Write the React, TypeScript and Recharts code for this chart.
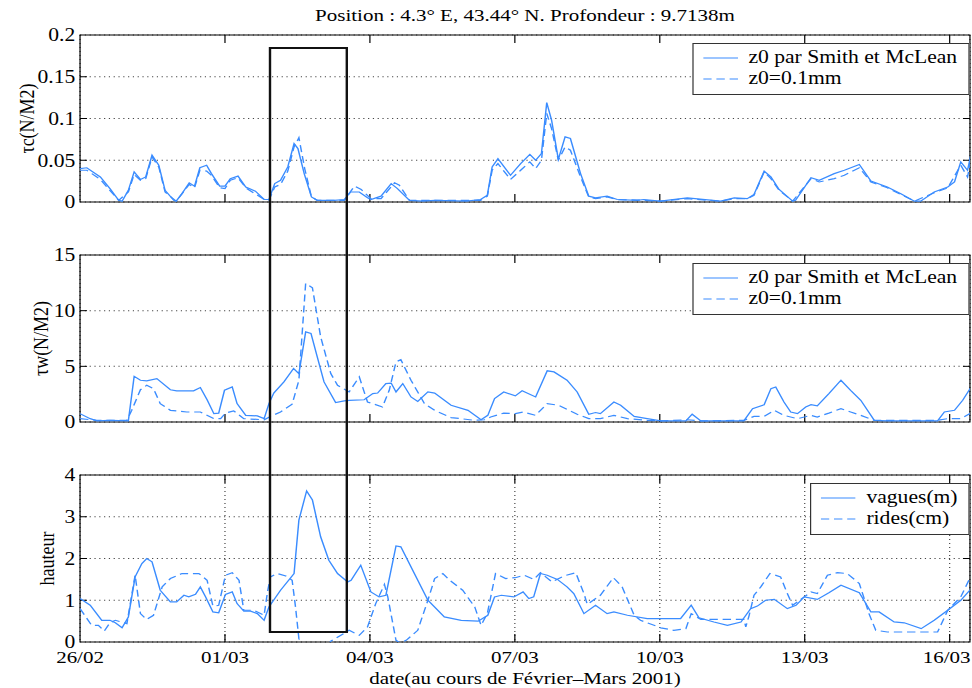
import React from "react";
import { CartesianGrid, Legend, Line, LineChart, ReferenceArea, ReferenceLine, XAxis, YAxis } from "recharts";

const FONT = '"Liberation Serif", "Times New Roman", serif';
const BLUE = "#3a8cff";
const DASH = "7 4";
// the original MATLAB figure was stretched horizontally, so draw narrow and scale
const STRETCH = 1.2;
const W = 810;
const PLOT_LEFT = 66.7;
const PLOT_RIGHT = 808.3;
const X_MAX = 18.42;

const dayTicks = [0, 3, 6, 9, 12, 15, 18];
const dayLabels = ["26/02", "01/03", "04/03", "07/03", "10/03", "13/03", "16/03"];

type Pt = [number, number];

// tau c (N/M2)
const tcSmith: Pt[] = [
  [0, 0.04], [0.14, 0.041], [0.42, 0.03], [0.62, 0.016], [0.8, 0.002], [0.87, 0.001], [1.0, 0.014],
  [1.12, 0.036], [1.25, 0.027], [1.36, 0.03], [1.49, 0.056], [1.63, 0.044], [1.76, 0.014], [1.94, 0.002],
  [1.99, 0.001], [2.11, 0.01], [2.26, 0.023], [2.37, 0.019], [2.48, 0.041], [2.62, 0.044], [2.72, 0.034],
  [2.89, 0.019], [3.0, 0.019], [3.11, 0.028], [3.27, 0.031], [3.43, 0.018], [3.63, 0.013], [3.81, 0.003],
  [3.91, 0.003], [4.03, 0.022], [4.15, 0.026], [4.3, 0.042], [4.43, 0.07], [4.51, 0.064], [4.64, 0.034],
  [4.79, 0.006], [4.91, 0.002], [5.26, 0.002], [5.47, 0.003], [5.6, 0.012], [5.78, 0.012], [5.95, 0.005],
  [6.02, 0.003], [6.23, 0.007], [6.44, 0.022], [6.57, 0.016], [6.82, 0.002], [7.1, 0.001], [7.34, 0.002],
  [8.0, 0.001], [8.29, 0.003], [8.43, 0.008], [8.53, 0.042], [8.65, 0.052], [8.91, 0.032], [9.12, 0.046],
  [9.31, 0.057], [9.43, 0.05], [9.55, 0.058], [9.66, 0.119], [9.76, 0.098], [9.9, 0.051], [10.04, 0.078],
  [10.15, 0.076], [10.36, 0.034], [10.53, 0.007], [10.67, 0.005], [10.91, 0.007], [11.12, 0.003],
  [11.53, 0.002], [11.67, 0.003], [12.01, 0.001], [12.57, 0.005], [13.26, 0.001], [13.54, 0.005],
  [13.81, 0.004], [13.95, 0.009], [14.16, 0.037], [14.3, 0.03], [14.47, 0.015], [14.57, 0.01], [14.75, 0.001],
  [14.81, 0.002], [15.13, 0.029], [15.3, 0.026], [15.61, 0.034], [15.82, 0.038], [16.13, 0.045],
  [16.37, 0.025], [16.71, 0.018], [16.99, 0.01], [17.27, 0.001], [17.4, 0.001], [17.68, 0.012],
  [17.96, 0.018], [18.1, 0.024], [18.23, 0.048], [18.37, 0.038], [18.48, 0.068],
];
const tc01: Pt[] = [
  [0, 0.038], [0.14, 0.038], [0.42, 0.027], [0.8, 0.002], [1.0, 0.012], [1.12, 0.033], [1.25, 0.026],
  [1.36, 0.028], [1.49, 0.054], [1.63, 0.042], [1.76, 0.012], [1.99, 0.001], [2.26, 0.021], [2.37, 0.017],
  [2.48, 0.038], [2.62, 0.037], [2.72, 0.032], [2.89, 0.017], [3.0, 0.016], [3.11, 0.026], [3.27, 0.029],
  [3.43, 0.017], [3.81, 0.003], [3.91, 0.002], [4.03, 0.018], [4.15, 0.021], [4.3, 0.037], [4.43, 0.066],
  [4.53, 0.077], [4.65, 0.04], [4.79, 0.006], [4.91, 0.002], [5.47, 0.002], [5.68, 0.019], [5.82, 0.015],
  [6.02, 0.004], [6.23, 0.004], [6.51, 0.023], [6.61, 0.02], [6.82, 0.002], [8.29, 0.002], [8.43, 0.007],
  [8.53, 0.038], [8.65, 0.046], [8.91, 0.027], [9.12, 0.038], [9.31, 0.048], [9.43, 0.04], [9.55, 0.05],
  [9.66, 0.106], [9.76, 0.088], [9.9, 0.05], [10.04, 0.066], [10.15, 0.062], [10.36, 0.03], [10.53, 0.006],
  [10.67, 0.004], [10.91, 0.006], [11.12, 0.003], [11.67, 0.002], [12.01, 0.001], [12.57, 0.004],
  [13.26, 0.001], [13.54, 0.004], [13.81, 0.004], [13.95, 0.008], [14.16, 0.036], [14.3, 0.028],
  [14.47, 0.014], [14.75, 0.001], [15.13, 0.028], [15.3, 0.024], [15.61, 0.028], [15.82, 0.032],
  [16.13, 0.041], [16.37, 0.024], [16.71, 0.017], [17.27, 0.001], [17.68, 0.011], [17.96, 0.017],
  [18.23, 0.044], [18.37, 0.03], [18.48, 0.062],
];

// tau w (N/M2)
const twSmith: Pt[] = [
  [0, 0.75], [0.21, 0.3], [0.35, 0.1], [0.62, 0.15], [1.0, 0.1], [1.12, 4.1], [1.25, 3.75], [1.38, 3.7],
  [1.59, 3.9], [1.87, 2.9], [2.0, 2.8], [2.35, 2.8], [2.49, 3.1], [2.63, 2.0], [2.77, 0.75], [2.87, 0.8],
  [2.99, 2.85], [3.15, 3.15], [3.25, 1.65], [3.43, 0.6], [3.67, 0.55], [3.81, 0.3], [3.91, 1.65],
  [4.01, 2.6], [4.22, 3.6], [4.42, 4.8], [4.53, 4.35], [4.67, 8.1], [4.78, 7.95], [4.91, 5.85],
  [5.05, 3.6], [5.29, 1.75], [5.47, 1.9], [5.57, 1.95], [5.88, 2.0], [6.06, 2.55], [6.16, 2.6],
  [6.33, 3.45], [6.44, 3.5], [6.54, 2.7], [6.68, 3.45], [6.85, 2.25], [6.99, 1.85], [7.2, 2.7],
  [7.34, 2.6], [7.68, 1.5], [8.03, 1.05], [8.3, 0.2], [8.44, 0.6], [8.58, 2.1], [8.77, 2.7], [9.01, 2.35],
  [9.15, 2.8], [9.43, 2.25], [9.67, 4.6], [9.81, 4.5], [10.08, 3.75], [10.29, 2.7], [10.53, 0.7],
  [10.67, 0.85], [10.77, 0.75], [11.05, 1.8], [11.19, 1.5], [11.47, 0.5], [11.74, 0.3], [12.02, 0.1],
  [12.54, 0.1], [12.67, 0.7], [12.85, 0.1], [13.74, 0.1], [13.92, 1.2], [14.16, 1.55], [14.3, 3.0],
  [14.4, 3.15], [14.57, 1.8], [14.71, 0.9], [14.85, 0.75], [15.02, 1.35], [15.13, 1.55], [15.26, 1.45],
  [15.5, 2.55], [15.75, 3.75], [15.95, 2.85], [16.16, 1.95], [16.44, 0.15], [16.71, 0.1], [17.75, 0.1],
  [17.89, 0.9], [18.1, 1.05], [18.27, 1.95], [18.48, 3.4],
];
const tw01: Pt[] = [
  [0, 0.3], [0.35, 0.15], [0.97, 0.15], [1.07, 1.05], [1.25, 2.9], [1.38, 3.3], [1.52, 3.0], [1.66, 1.65],
  [1.87, 1.05], [2.21, 0.9], [2.49, 0.9], [2.77, 0.3], [2.91, 0.3], [3.01, 0.8], [3.18, 1.0], [3.39, 0.3],
  [3.81, 0.2], [3.94, 0.5], [4.15, 0.9], [4.39, 1.6], [4.53, 3.75], [4.67, 12.45], [4.81, 12.05],
  [4.98, 7.65], [5.19, 4.35], [5.33, 3.3], [5.57, 2.7], [5.78, 4.05], [5.95, 1.8], [6.26, 1.35],
  [6.4, 2.85], [6.54, 5.4], [6.64, 5.6], [6.85, 3.75], [7.13, 1.65], [7.34, 1.05], [7.68, 0.4],
  [8.17, 0.15], [8.37, 0.2], [8.5, 0.45], [8.77, 0.8], [9.01, 0.75], [9.17, 0.9], [9.43, 0.6],
  [9.67, 1.65], [9.91, 1.5], [10.29, 0.7], [10.53, 0.3], [10.77, 0.3], [11.05, 0.6], [11.33, 0.3],
  [11.74, 0.15], [12.02, 0.1], [12.57, 0.2], [12.85, 0.1], [13.74, 0.15], [13.95, 0.5], [14.16, 0.5],
  [14.37, 1.05], [14.57, 0.6], [14.85, 0.3], [15.13, 0.6], [15.26, 0.45], [15.5, 0.8], [15.75, 1.2],
  [15.95, 0.9], [16.16, 0.6], [16.44, 0.15], [17.75, 0.15], [17.96, 0.3], [18.23, 0.3], [18.48, 0.9],
];

// hauteur : vagues (m) et rides (cm)
const vagues: Pt[] = [
  [0, 1.04], [0.21, 0.88], [0.45, 0.52], [0.62, 0.52], [0.73, 0.46], [0.87, 0.34], [1.0, 0.6], [1.14, 1.56],
  [1.28, 1.88], [1.38, 2.0], [1.49, 1.92], [1.66, 1.24], [1.87, 0.96], [2.0, 0.96], [2.15, 1.12],
  [2.25, 1.08], [2.39, 1.14], [2.49, 1.32], [2.6, 1.08], [2.75, 0.72], [2.87, 0.7], [3.01, 1.14],
  [3.15, 1.2], [3.25, 0.92], [3.39, 0.74], [3.53, 0.74], [3.67, 0.68], [3.81, 0.52], [3.91, 0.84],
  [4.15, 1.24], [4.43, 1.64], [4.53, 2.92], [4.69, 3.62], [4.81, 3.4], [4.98, 2.52], [5.15, 1.96],
  [5.33, 1.64], [5.54, 1.44], [5.61, 1.48], [5.81, 1.84], [6.02, 1.2], [6.19, 1.08], [6.33, 1.12],
  [6.54, 2.3], [6.64, 2.28], [6.92, 1.64], [7.2, 1.0], [7.54, 0.6], [7.89, 0.52], [8.24, 0.5],
  [8.44, 0.64], [8.58, 1.08], [8.72, 1.12], [8.98, 1.08], [9.17, 1.2], [9.29, 1.04], [9.39, 1.08],
  [9.53, 1.64], [9.67, 1.6], [9.88, 1.5], [10.08, 1.32], [10.22, 1.16], [10.43, 0.68], [10.67, 0.88],
  [10.91, 0.68], [11.05, 0.72], [11.33, 0.64], [11.74, 0.56], [12.43, 0.56], [12.65, 0.88], [12.81, 0.58],
  [13.12, 0.48], [13.4, 0.4], [13.68, 0.48], [13.88, 0.8], [14.02, 0.86], [14.19, 1.0], [14.37, 1.02],
  [14.64, 0.8], [14.82, 0.88], [14.99, 1.08], [15.26, 1.02], [15.5, 1.18], [15.75, 1.36], [16.13, 1.18],
  [16.37, 0.72], [16.54, 0.72], [16.85, 0.48], [17.06, 0.46], [17.41, 0.32], [17.68, 0.52], [17.96, 0.76],
  [18.23, 1.0], [18.48, 1.32],
];
const rides: Pt[] = [
  [0, 0.8], [0.24, 0.4], [0.38, 0.4], [0.5, 0.26], [0.62, 0.46], [0.73, 0.52], [0.97, 0.44], [1.14, 1.6],
  [1.25, 0.68], [1.38, 0.54], [1.52, 0.64], [1.7, 1.32], [1.87, 1.52], [2.11, 1.64], [2.46, 1.64],
  [2.63, 1.48], [2.75, 0.86], [2.87, 0.88], [3.01, 1.6], [3.15, 1.66], [3.29, 1.48], [3.39, 0.76],
  [3.6, 0.76], [3.81, 0.64], [3.88, 1.2], [3.94, 1.56], [4.08, 1.64], [4.26, 1.58], [4.39, 1.48],
  [4.46, 0.84], [4.53, 0.08], [4.6, -0.1], [4.77, -0.3], [4.98, -0.3], [5.19, 0.02], [5.57, 0.28],
  [5.78, 0.16], [5.95, 0.36], [6.12, 0.92], [6.3, 1.38], [6.37, 1.08], [6.54, 0.04], [6.62, -0.02],
  [6.75, 0.04], [6.99, 0.28], [7.2, 1.0], [7.34, 1.52], [7.51, 1.64], [7.65, 1.48], [7.92, 1.24],
  [8.17, 0.84], [8.3, 0.4], [8.43, 0.68], [8.6, 1.64], [8.81, 1.52], [9.01, 1.54], [9.19, 1.6],
  [9.39, 1.5], [9.53, 1.66], [9.77, 1.44], [10.01, 1.58], [10.26, 1.66], [10.43, 1.16], [10.5, 0.9],
  [10.77, 1.12], [11.04, 1.54], [11.22, 1.32], [11.47, 0.64], [11.6, 0.52], [12.02, 0.34], [12.29, 0.28],
  [12.54, 0.32], [12.65, 0.68], [12.85, 0.54], [13.74, 0.54], [13.78, 0.36], [13.85, 0.64], [13.95, 1.12],
  [14.09, 1.32], [14.28, 1.64], [14.5, 1.56], [14.64, 1.16], [14.75, 0.88], [14.99, 1.08], [15.13, 1.2],
  [15.26, 1.16], [15.47, 1.6], [15.68, 1.66], [15.88, 1.64], [16.13, 1.4], [16.33, 0.68], [16.47, 0.28],
  [16.71, 0.24], [17.75, 0.24], [17.96, 0.76], [18.23, 1.08], [18.48, 1.68],
];

// zoomed window (days) and its vertical extent (panel 1 top value, panel 3 bottom value)
const zoomDays = [3.905, 5.553];
const zoomTopValue = 0.186;
const zoomBottomValue = 0.21;

const PANEL_TOPS = [35, 255, 475];
const PANEL_H = 167;
const TICK_PX = 8;

const toRows = (pts: Pt[]) => pts.map(([t, v]) => ({ t, v }));
const xPx = (d: number) => PLOT_LEFT + (d / X_MAX) * (PLOT_RIGHT - PLOT_LEFT);

function BoxLegend(props: any) {
  const items = props.payload || [];
  return (
    <div
      style={{
        border: "1px solid #333",
        background: "#fff",
        padding: "3px 9px 5px 8px",
        fontFamily: FONT,
        fontSize: 18,
        lineHeight: "21px",
        color: "#000",
        whiteSpace: "nowrap",
      }}
    >
      {items.map((it: any) => (
        <div key={it.value} style={{ display: "flex", alignItems: "center" }}>
          <svg width={29} height={10} style={{ marginRight: 9 }}>
            <line x1={0} y1={5} x2={29} y2={5} stroke={it.color} strokeWidth={1.2}
              strokeDasharray={it.payload?.strokeDasharray} />
          </svg>
          <span>{it.value}</span>
        </div>
      ))}
    </div>
  );
}

// date tick; the last one sits at the right edge of the figure, nudge it in a little
function DateTick(props: any) {
  const v = props.payload?.value;
  const i = dayTicks.indexOf(v);
  const label = dayLabels[i] ?? "";
  return (
    <text x={props.x} y={props.y} dy="0.71em" dx={i === dayTicks.length - 1 ? -2.5 : 0} textAnchor="middle"
      fill="#000" fontSize={17.5} fontFamily={FONT}>
      {label}
    </text>
  );
}

interface PanelProps {
  top: number;
  height: number;
  yDomain: [number, number];
  yTicks: number[];
  yLabel: string;
  labelX: number;
  solid: Pt[];
  dashed: Pt[];
  names: [string, string];
  legendLeft: number;
  showDates?: boolean;
}

function Panel({ top, height, yDomain, yTicks, yLabel, labelX, solid, dashed, names, legendLeft, showDates }: PanelProps) {
  const axisH = showDates ? 20 : 0;
  const [y0, y1] = yDomain;
  // MATLAB-style inward tick marks, expressed in data units
  const dy = ((y1 - y0) * TICK_PX) / PANEL_H;
  const dx = (X_MAX * (TICK_PX - 1)) / STRETCH / (PLOT_RIGHT - PLOT_LEFT);
  const innerX = dayTicks.filter((d) => d > 0);
  const innerY = yTicks.filter((v) => v > y0 && v < y1);
  return (
    <div style={{ position: "absolute", left: 0, top }}>
      <LineChart
        width={W}
        height={height}
        margin={{ top: 10, right: W - PLOT_RIGHT, bottom: height - 10 - PANEL_H - axisH, left: 6.7 }}
      >
        <CartesianGrid stroke="#444" strokeDasharray="1 3" />
        <XAxis
          type="number"
          dataKey="t"
          domain={[0, X_MAX]}
          ticks={dayTicks}
          interval={0}
          allowDataOverflow
          height={axisH}
          axisLine={false}
          tickLine={false}
          tickSize={6}
          tickMargin={3}
          tick={showDates ? <DateTick /> : false}
        />
        <YAxis
          type="number"
          domain={yDomain}
          ticks={yTicks}
          interval={0}
          allowDataOverflow
          width={60}
          axisLine={false}
          tickLine={false}
          tickSize={2}
          tickMargin={2}
          tick={{ fill: "#000", fontSize: 18, fontFamily: FONT }}
          label={(p: any) => {
            const vb = p.viewBox || {};
            const cy = (vb.y ?? 10) + (vb.height ?? PANEL_H) / 2;
            return (
              <text x={labelX} y={cy} transform={`rotate(-90 ${labelX} ${cy})`} textAnchor="middle"
                dominantBaseline="central" fontSize={18} fontFamily={FONT} fill="#000">
                {yLabel}
              </text>
            );
          }}
        />
        <ReferenceArea x1={0} x2={X_MAX} y1={y0} y2={y1} fill="none" stroke="#000" strokeWidth={1} />
        {innerX.map((d) => (
          <ReferenceLine key={`xb${d}`} segment={[{ x: d, y: y0 }, { x: d, y: y0 + dy }]} stroke="#000" />
        ))}
        {innerX.map((d) => (
          <ReferenceLine key={`xt${d}`} segment={[{ x: d, y: y1 }, { x: d, y: y1 - dy }]} stroke="#000" />
        ))}
        {innerY.map((v) => (
          <ReferenceLine key={`yl${v}`} segment={[{ x: 0, y: v }, { x: dx, y: v }]} stroke="#000" />
        ))}
        {innerY.map((v) => (
          <ReferenceLine key={`yr${v}`} segment={[{ x: X_MAX - dx, y: v }, { x: X_MAX, y: v }]} stroke="#000" />
        ))}
        <Line data={toRows(solid)} dataKey="v" name={names[0]} type="linear" stroke={BLUE} strokeWidth={1.2}
          dot={false} isAnimationActive={false} />
        <Line data={toRows(dashed)} dataKey="v" name={names[1]} type="linear" stroke={BLUE} strokeWidth={1.2}
          strokeDasharray={DASH} dot={false} isAnimationActive={false} />
        <Legend layout="vertical" align="center" verticalAlign="middle" itemSorter={null as any}
          wrapperStyle={{ top: 18, left: legendLeft, right: "auto", bottom: "auto" }} content={BoxLegend} />
      </LineChart>
    </div>
  );
}

export default function App() {
  const zoomTop = PANEL_TOPS[0] + (1 - zoomTopValue / 0.2) * PANEL_H;
  const zoomBottom = PANEL_TOPS[2] + (1 - zoomBottomValue / 4) * PANEL_H;
  const tauNames: [string, string] = ["z0 par Smith et McLean", "z0=0.1mm"];
  return (
    <div style={{ position: "absolute", left: 0, top: 0, width: 972, height: 688, background: "#fff", overflow: "hidden" }}>
      <div style={{ position: "absolute", left: 0, top: 0, width: W, height: 688, transform: `scaleX(${STRETCH})`, transformOrigin: "0 0" }}>
        <div style={{ position: "absolute", top: 5, left: PLOT_LEFT, width: PLOT_RIGHT - PLOT_LEFT, textAlign: "center",
          fontFamily: FONT, fontSize: 17.5, lineHeight: "20px", color: "#000" }}>
          Position : 4.3° E, 43.44° N. Profondeur : 9.7138m
        </div>
        <Panel top={25} height={187} yDomain={[0, 0.2]} yTicks={[0, 0.05, 0.1, 0.15, 0.2]} yLabel="τc(N/M2)"
          labelX={21.7} solid={tcSmith} dashed={tc01} names={tauNames} legendLeft={576.7} />
        <Panel top={245} height={187} yDomain={[0, 15]} yTicks={[0, 5, 10, 15]} yLabel="τw(N/M2)"
          labelX={34} solid={twSmith} dashed={tw01} names={tauNames} legendLeft={576.7} />
        <Panel top={465} height={223} yDomain={[0, 4]} yTicks={[0, 1, 2, 3, 4]} yLabel="hauteur"
          labelX={39} solid={vagues} dashed={rides} names={["vagues(m)", "rides(cm)"]} legendLeft={675} showDates />
        <div style={{ position: "absolute", top: 668, left: PLOT_LEFT, width: PLOT_RIGHT - PLOT_LEFT, textAlign: "center",
          fontFamily: FONT, fontSize: 17.5, lineHeight: "20px", color: "#000" }}>
          date(au cours de Février–Mars 2001)
        </div>
        <div style={{ position: "absolute", left: xPx(zoomDays[0]), width: xPx(zoomDays[1]) - xPx(zoomDays[0]),
          top: zoomTop, height: zoomBottom - zoomTop, border: "2px solid #111", boxSizing: "border-box" }} />
      </div>
    </div>
  );
}
